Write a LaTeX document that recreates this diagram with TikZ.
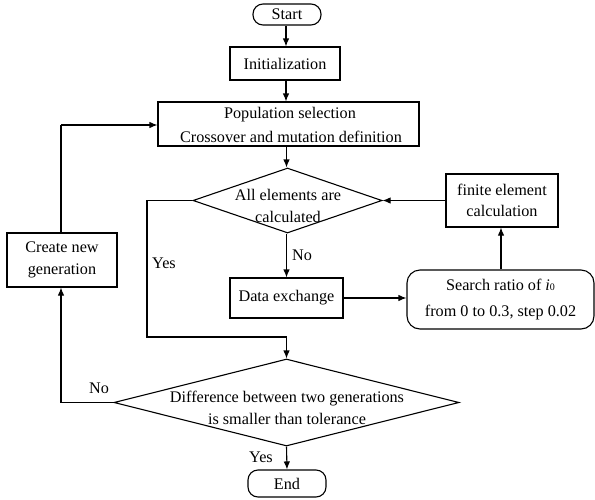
\documentclass[tikz,border=0pt]{standalone}
\usepackage{fontspec}
\setmainfont{Liberation Serif}
\usetikzlibrary{shapes.geometric,arrows.meta}
\begin{document}
\begin{tikzpicture}[x=1pt,y=-1pt,
  every node/.style={font=\fontsize{16.2}{21.5}\selectfont},
  box/.style={draw,line width=1.1pt,inner sep=0pt,align=center},
  term/.style={box,rounded corners=10pt},
  dia/.style={draw,diamond,line width=1.1pt,inner sep=0pt},
  txt/.style={inner sep=0pt,align=center},
  arr/.style={line width=1.1pt,-{Latex[length=8pt,width=6.5pt]}},
  ln/.style={line width=1.1pt}]
\useasboundingbox (0,0) rectangle (595,499);
\node[term,minimum width=68pt,minimum height=21pt] (start) at (287,14.5) {Start};
\node[box,minimum width=110pt,minimum height=33pt] (init) at (285,63.5) {Initialization};
\node[box,minimum width=261pt,minimum height=44pt] (pop) at (288.5,124) {};
\node[txt] (popt1) at (290,115) {Population selection};
\node[txt] (popt2) at (291,136.5) {Crossover and mutation definition};
\node[dia,minimum width=189pt,minimum height=65pt] (d1) at (287.5,200.5) {};
\node[txt] (d1t) at (288,206) {All elements are\\calculated};
\node[box,minimum width=112pt,minimum height=53pt] (fin) at (502,200.5) {finite element\\calculation};
\node[term,rounded corners=13pt,minimum width=187pt,minimum height=59pt,font=\fontsize{16.2}{26}\selectfont] (search) at (500.5,299.5) {Search ratio of \textit{i}{\fontsize{10}{10}\selectfont 0}\\from 0 to 0.3, step 0.02};
\node[box,minimum width=113pt,minimum height=40pt] (data) at (286.5,298) {Data exchange};
\node[dia,minimum width=345pt,minimum height=87pt] (d2) at (286.5,402.5) {};
\node[txt] (d2t) at (287,408) {Difference between two generations\\is smaller than tolerance};
\node[box,minimum width=110pt,minimum height=54pt] (create) at (62,260) {Create new\\generation};
\node[term,minimum width=78pt,minimum height=27pt] (end) at (287,483.5) {End};
\coordinate (yl) at (147,200.5);
\coordinate (yb) at (147,337);
\coordinate (ym) at (286.5,337);
\coordinate (nl) at (61,402.5);
\coordinate (cl) at (61,125);
\draw[arr] (start.south -| 286,0) -- (init.north -| 286,0);
\draw[arr] (init.south -| 286,0) -- (pop.north -| 286,0);
\draw[arr] (pop.south -| 286.5,0) -- (d1.north -| 286.5,0);
\draw[arr] (d1.south -| 286.5,0) -- (data.north -| 286.5,0);
\node[txt] (no1) at (302,255) {No};
\draw[arr] (data.east) -- (search.west |- data.east);
\draw[arr] (search.north -| 501,0) -- (fin.south -| 501,0);
\draw[arr] (fin.west) -- (d1.east);
\draw[ln] (d1.west) -- (yl) -- (yb) -- (ym);
\node[txt] (yes1) at (164,263) {Yes};
\draw[arr] (ym) -- (d2.north);
\draw[ln] (d2.west) -- (nl);
\node[txt] (no2) at (99,388) {No};
\draw[arr] (nl) -- (create.south -| nl);
\draw[ln] (create.north -| cl) -- (cl);
\draw[arr] (cl) -- (pop.west |- cl);
\draw[arr] (d2.south) -- (end.north);
\node[txt] (yes2) at (261,457) {Yes};
\end{tikzpicture}
\end{document}
